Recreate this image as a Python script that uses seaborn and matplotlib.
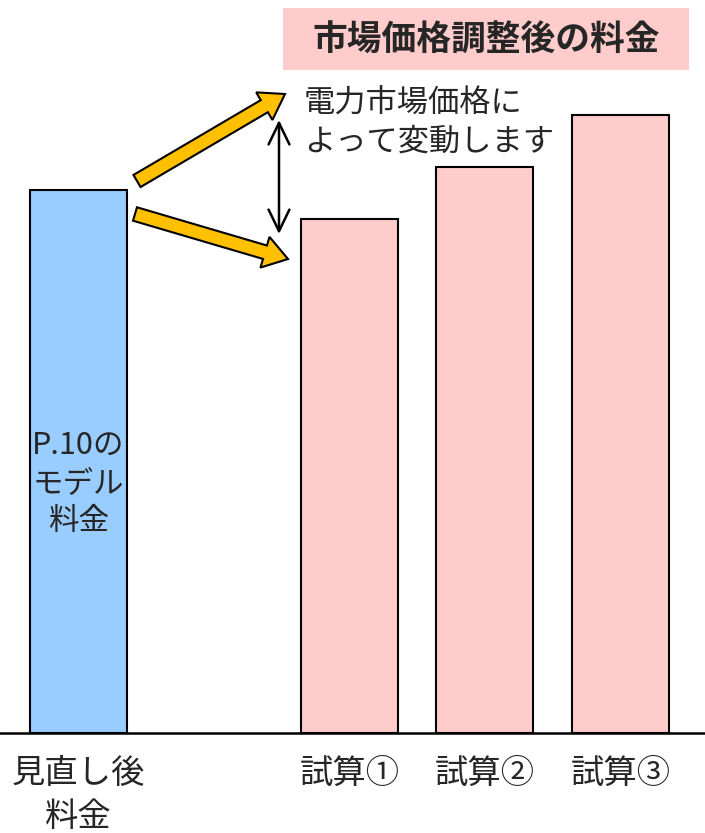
import matplotlib
matplotlib.use('Agg')
import matplotlib.pyplot as plt
from matplotlib.patches import FancyArrow, Rectangle
import numpy as np
import pandas as pd
import seaborn as sns

# Chart data
categories = ['見直し後\n料金', '試算①', '試算②', '試算③']
positions = [0, 2, 3, 4]
values = [100.0, 94.7, 104.2, 113.8]
bar_colors = ['#99CCFF', '#FFCCCC', '#FFCCCC', '#FFCCCC']

sns.set_style('white')
plt.rcParams['font.family'] = ['Noto Sans CJK JP', 'DejaVu Sans']

df = pd.DataFrame({'pos': positions, 'value': values, 'label': categories})

fig = plt.figure(figsize=(7.05, 8.33), dpi=100)
ax = fig.add_axes([0, 0, 1, 1])

# Bars
sns.barplot(data=df, x='pos', y='value', hue='label', native_scale=True,
            palette=dict(zip(categories, bar_colors)), width=0.716,
            edgecolor='black', linewidth=1.5, legend=False, ax=ax, saturation=1)

ax.set_xlim(-0.579, 4.624)
ax.set_ylim(-18.42, 135.0)
ax.axhline(0, color='black', lw=1.8, zorder=5)
for s in ax.spines.values():
    s.set_visible(False)
ax.set_xticks([])
ax.set_yticks([])
ax.set_xlabel('')
ax.set_ylabel('')

# Category labels under the baseline
for p, lab in zip(positions, categories):
    ax.text(p, -4.3, lab, ha='center', va='top', fontsize=24, linespacing=1.3)

# Text inside the blue bar
ax.text(positions[0], 46, 'P.10の\nモデル\n料金', ha='center', va='center',
        fontsize=22, linespacing=1.3)

# Overlay axes in pixel coordinates for the annotations
ov = fig.add_axes([0, 0, 1, 1])
ov.set_xlim(0, 705)
ov.set_ylim(833, 0)
ov.axis('off')
ov.patch.set_alpha(0)

# Title box
ov.add_patch(Rectangle((283, 8), 406, 62, facecolor='#FFCCCC', edgecolor='none'))
ov.text(486, 40, '市場価格調整後の料金', ha='center', va='center',
        fontsize=25, fontweight='bold')

ov.text(304, 122, '電力市場価格に\nよって変動します', ha='left', va='center',
        fontsize=22.5, linespacing=1.3)

# Orange arrows
arrow_kw = dict(width=14, head_width=32, head_length=24, length_includes_head=True,
                facecolor='#FFC000', edgecolor='black', linewidth=1.5)
ov.add_patch(FancyArrow(137, 181, 285 - 137, 94 - 181, **arrow_kw))
ov.add_patch(FancyArrow(135, 214, 288 - 135, 259 - 214, **arrow_kw))

# Double black arrow
ov.annotate('', xy=(279, 120), xytext=(279, 234),
            arrowprops=dict(arrowstyle='<->,head_length=1.55,head_width=0.75',
                            color='black', lw=1.8, shrinkA=0, shrinkB=0))

fig.savefig('out.png', dpi=100)
